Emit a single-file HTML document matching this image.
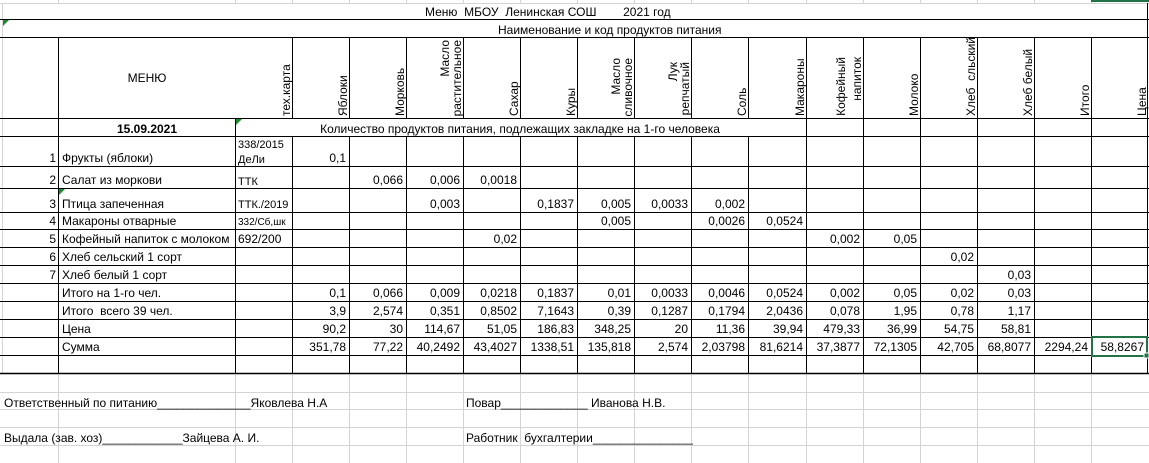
<!DOCTYPE html>
<html><head><meta charset="utf-8"><style>
html,body{margin:0;padding:0;background:#fff;}
svg{display:block;font-family:"Liberation Sans",sans-serif;font-size:12px;}
text{white-space:pre;}
</style></head><body>
<svg width="1149" height="463" viewBox="0 0 1149 463" xmlns="http://www.w3.org/2000/svg" xml:space="preserve">
<g stroke="#d4d4d4" stroke-width="1">
<line x1="0" y1="3.5" x2="1149" y2="3.5"/>
<line x1="58.5" y1="0" x2="58.5" y2="3"/><line x1="235.5" y1="0" x2="235.5" y2="3"/><line x1="292.5" y1="0" x2="292.5" y2="3"/><line x1="349.5" y1="0" x2="349.5" y2="3"/><line x1="406.5" y1="0" x2="406.5" y2="3"/><line x1="463.5" y1="0" x2="463.5" y2="3"/><line x1="520.5" y1="0" x2="520.5" y2="3"/><line x1="577.5" y1="0" x2="577.5" y2="3"/><line x1="634.5" y1="0" x2="634.5" y2="3"/><line x1="691.5" y1="0" x2="691.5" y2="3"/><line x1="748.5" y1="0" x2="748.5" y2="3"/><line x1="806.5" y1="0" x2="806.5" y2="3"/><line x1="863.5" y1="0" x2="863.5" y2="3"/><line x1="920.5" y1="0" x2="920.5" y2="3"/><line x1="977.5" y1="0" x2="977.5" y2="3"/><line x1="1034.5" y1="0" x2="1034.5" y2="3"/><line x1="1091.5" y1="0" x2="1091.5" y2="3"/>
<line x1="0" y1="392.5" x2="1149" y2="392.5"/><line x1="0" y1="409.5" x2="1149" y2="409.5"/><line x1="0" y1="427.5" x2="1149" y2="427.5"/><line x1="0" y1="445.5" x2="1149" y2="445.5"/>
<line x1="58.5" y1="374" x2="58.5" y2="463"/><line x1="235.5" y1="374" x2="235.5" y2="463"/><line x1="292.5" y1="374" x2="292.5" y2="463"/><line x1="349.5" y1="374" x2="349.5" y2="463"/><line x1="406.5" y1="374" x2="406.5" y2="463"/><line x1="463.5" y1="374" x2="463.5" y2="463"/><line x1="520.5" y1="374" x2="520.5" y2="463"/><line x1="577.5" y1="374" x2="577.5" y2="463"/><line x1="634.5" y1="374" x2="634.5" y2="463"/><line x1="691.5" y1="374" x2="691.5" y2="463"/><line x1="748.5" y1="374" x2="748.5" y2="463"/><line x1="806.5" y1="374" x2="806.5" y2="463"/><line x1="863.5" y1="374" x2="863.5" y2="463"/><line x1="920.5" y1="374" x2="920.5" y2="463"/><line x1="977.5" y1="374" x2="977.5" y2="463"/><line x1="1034.5" y1="374" x2="1034.5" y2="463"/><line x1="1091.5" y1="374" x2="1091.5" y2="463"/>
<line x1="2.5" y1="3" x2="2.5" y2="373"/>
</g>
<line x1="1091" y1="1" x2="1149" y2="1" stroke="#217346" stroke-width="2"/>
<g stroke="#000" stroke-width="1">
<line x1="0" y1="19.5" x2="1149" y2="19.5"/>
<line x1="0" y1="37.5" x2="1149" y2="37.5"/>
<line x1="0" y1="118.5" x2="1149" y2="118.5"/>
<line x1="0" y1="136.5" x2="1149" y2="136.5"/>
<line x1="0" y1="166.5" x2="1149" y2="166.5"/>
<line x1="0" y1="188.5" x2="1149" y2="188.5"/>
<line x1="0" y1="212.5" x2="1149" y2="212.5"/>
<line x1="0" y1="229.5" x2="1149" y2="229.5"/>
<line x1="0" y1="247.5" x2="1149" y2="247.5"/>
<line x1="0" y1="265.5" x2="1149" y2="265.5"/>
<line x1="0" y1="283.5" x2="1149" y2="283.5"/>
<line x1="0" y1="301.5" x2="1149" y2="301.5"/>
<line x1="0" y1="319.5" x2="1149" y2="319.5"/>
<line x1="0" y1="337.5" x2="1149" y2="337.5"/>
<line x1="0" y1="355.5" x2="1149" y2="355.5"/>
<line x1="0" y1="373.5" x2="1149" y2="373.5" stroke-width="1.5"/>
<line x1="1147.5" y1="3" x2="1147.5" y2="374"/>
<line x1="58.5" y1="37" x2="58.5" y2="374"/>
<line x1="235.5" y1="118" x2="235.5" y2="374"/>
<line x1="292.5" y1="37" x2="292.5" y2="118"/><line x1="292.5" y1="136" x2="292.5" y2="374"/>
<line x1="349.5" y1="37" x2="349.5" y2="118"/><line x1="349.5" y1="136" x2="349.5" y2="374"/>
<line x1="406.5" y1="37" x2="406.5" y2="118"/><line x1="406.5" y1="136" x2="406.5" y2="374"/>
<line x1="463.5" y1="37" x2="463.5" y2="118"/><line x1="463.5" y1="136" x2="463.5" y2="374"/>
<line x1="520.5" y1="37" x2="520.5" y2="118"/><line x1="520.5" y1="136" x2="520.5" y2="374"/>
<line x1="577.5" y1="37" x2="577.5" y2="118"/><line x1="577.5" y1="136" x2="577.5" y2="374"/>
<line x1="634.5" y1="37" x2="634.5" y2="118"/><line x1="634.5" y1="136" x2="634.5" y2="374"/>
<line x1="691.5" y1="37" x2="691.5" y2="118"/><line x1="691.5" y1="136" x2="691.5" y2="374"/>
<line x1="748.5" y1="37" x2="748.5" y2="118"/><line x1="748.5" y1="136" x2="748.5" y2="374"/>
<line x1="806.5" y1="37" x2="806.5" y2="374"/>
<line x1="863.5" y1="37" x2="863.5" y2="374"/>
<line x1="920.5" y1="37" x2="920.5" y2="374"/>
<line x1="977.5" y1="37" x2="977.5" y2="374"/>
<line x1="1034.5" y1="37" x2="1034.5" y2="374"/>
<line x1="1091.5" y1="37" x2="1091.5" y2="374"/>
</g>
<g fill="#1e8c2f">
<polygon points="3,20 9,20 3,26"/><polygon points="236,119 242,119 236,125"/><polygon points="59,189 65,189 59,195"/>
</g>
<text x="425" y="16">Меню  МБОУ  Ленинская СОШ        2021 год</text>
<text x="498" y="34">Наименование и код продуктов питания</text>
<text x="147" y="82" text-anchor="middle">МЕНЮ</text>
<text x="147" y="133" text-anchor="middle" font-weight="bold">15.09.2021</text>
<text x="520" y="133" text-anchor="middle">Количество продуктов питания, подлежащих закладке на 1-го человека</text>
<g>
<text transform="translate(290,116) rotate(-90)">тех.карта</text>
<text transform="translate(347,116) rotate(-90)">Яблоки</text>
<text transform="translate(404,116) rotate(-90)">Морковь</text>
<text transform="translate(449,40) rotate(-90)" text-anchor="end">Масло</text>
<text transform="translate(461,40) rotate(-90)" text-anchor="end">растительное</text>
<text transform="translate(518,116) rotate(-90)">Сахар</text>
<text transform="translate(575,116) rotate(-90)">Куры</text>
<text transform="translate(620,58) rotate(-90)" text-anchor="end">Масло</text>
<text transform="translate(632,58) rotate(-90)" text-anchor="end">сливочное</text>
<text transform="translate(677,62) rotate(-90)" text-anchor="end">Лук</text>
<text transform="translate(689,62) rotate(-90)" text-anchor="end">репчатый</text>
<text transform="translate(746,116) rotate(-90)">Соль</text>
<text transform="translate(804,116) rotate(-90)">Макароны</text>
<text transform="translate(845,57) rotate(-90)" text-anchor="end">Кофейный</text>
<text transform="translate(861,57) rotate(-90)" text-anchor="end">напиток</text>
<text transform="translate(918,116) rotate(-90)">Молоко</text>
<text transform="translate(975,116) rotate(-90)">Хлеб  сльский</text>
<text transform="translate(1032,116) rotate(-90)">Хлеб белый</text>
<text transform="translate(1089,116) rotate(-90)">Итого</text>
<text transform="translate(1146,116) rotate(-90)">Цена</text>
</g>
<g text-anchor="end">
<text x="56" y="162">1</text><text x="56" y="184">2</text><text x="56" y="208">3</text><text x="56" y="225">4</text><text x="56" y="243">5</text><text x="56" y="261">6</text><text x="56" y="279">7</text>
</g>
<text x="62" y="162">Фрукты (яблоки)</text>
<text x="62" y="184">Салат из моркови</text>
<text x="62" y="208">Птица запеченная</text>
<text x="62" y="225">Макароны отварные</text>
<text x="62" y="243">Кофейный напиток с молоком</text>
<text x="62" y="261">Хлеб сельский 1 сорт</text>
<text x="62" y="279">Хлеб белый 1 сорт</text>
<text x="62" y="297">Итого на 1-го чел.</text>
<text x="62" y="315">Итого  всего 39 чел.</text>
<text x="62" y="333">Цена</text>
<text x="62" y="351">Сумма</text>
<g font-size="11">
<text x="238" y="148">338/2015</text><text x="238" y="163">ДеЛи</text>
<text x="238" y="185">ТТК</text>
<text x="238" y="208">ТТК./2019</text>
<text x="238" y="225" font-size="10">332/Сб,шк</text>
</g>
<text x="238" y="243">692/200</text>
<g text-anchor="end">
<text x="346" y="162">0,1</text>
<text x="403" y="184">0,066</text><text x="460" y="184">0,006</text><text x="517" y="184">0,0018</text>
<text x="460" y="208">0,003</text><text x="574" y="208">0,1837</text><text x="631" y="208">0,005</text><text x="688" y="208">0,0033</text><text x="745" y="208">0,002</text>
<text x="631" y="225">0,005</text><text x="745" y="225">0,0026</text><text x="803" y="225">0,0524</text>
<text x="517" y="243">0,02</text><text x="860" y="243">0,002</text><text x="917" y="243">0,05</text>
<text x="974" y="261">0,02</text>
<text x="1031" y="279">0,03</text>
<text x="346" y="297">0,1</text><text x="403" y="297">0,066</text><text x="460" y="297">0,009</text><text x="517" y="297">0,0218</text><text x="574" y="297">0,1837</text><text x="631" y="297">0,01</text><text x="688" y="297">0,0033</text><text x="745" y="297">0,0046</text><text x="803" y="297">0,0524</text><text x="860" y="297">0,002</text><text x="917" y="297">0,05</text><text x="974" y="297">0,02</text><text x="1031" y="297">0,03</text>
<text x="346" y="315">3,9</text><text x="403" y="315">2,574</text><text x="460" y="315">0,351</text><text x="517" y="315">0,8502</text><text x="574" y="315">7,1643</text><text x="631" y="315">0,39</text><text x="688" y="315">0,1287</text><text x="745" y="315">0,1794</text><text x="803" y="315">2,0436</text><text x="860" y="315">0,078</text><text x="917" y="315">1,95</text><text x="974" y="315">0,78</text><text x="1031" y="315">1,17</text>
<text x="346" y="333">90,2</text><text x="403" y="333">30</text><text x="460" y="333">114,67</text><text x="517" y="333">51,05</text><text x="574" y="333">186,83</text><text x="631" y="333">348,25</text><text x="688" y="333">20</text><text x="745" y="333">11,36</text><text x="803" y="333">39,94</text><text x="860" y="333">479,33</text><text x="917" y="333">36,99</text><text x="974" y="333">54,75</text><text x="1031" y="333">58,81</text>
<text x="346" y="351">351,78</text><text x="403" y="351">77,22</text><text x="460" y="351">40,2492</text><text x="517" y="351">43,4027</text><text x="574" y="351">1338,51</text><text x="631" y="351">135,818</text><text x="688" y="351">2,574</text><text x="745" y="351">2,03798</text><text x="803" y="351">81,6214</text><text x="860" y="351">37,3877</text><text x="917" y="351">72,1305</text><text x="974" y="351">42,705</text><text x="1031" y="351">68,8077</text><text x="1088" y="351">2294,24</text><text x="1144" y="351">58,8267</text>
</g>
<rect x="1092" y="337" width="55" height="19" fill="none" stroke="#217346" stroke-width="2"/>
<rect x="1144" y="353" width="5" height="5" fill="#217346" stroke="#fff" stroke-width="1"/>
<text x="4" y="407">Ответственный по питанию______________Яковлева Н.А</text>
<text x="466" y="407">Повар_____________ Иванова Н.В.</text>
<text x="4" y="442">Выдала (зав. хоз)____________Зайцева А. И.</text>
<text x="466" y="442">Работник  бухгалтерии_______________</text>
</svg>
</body></html>
